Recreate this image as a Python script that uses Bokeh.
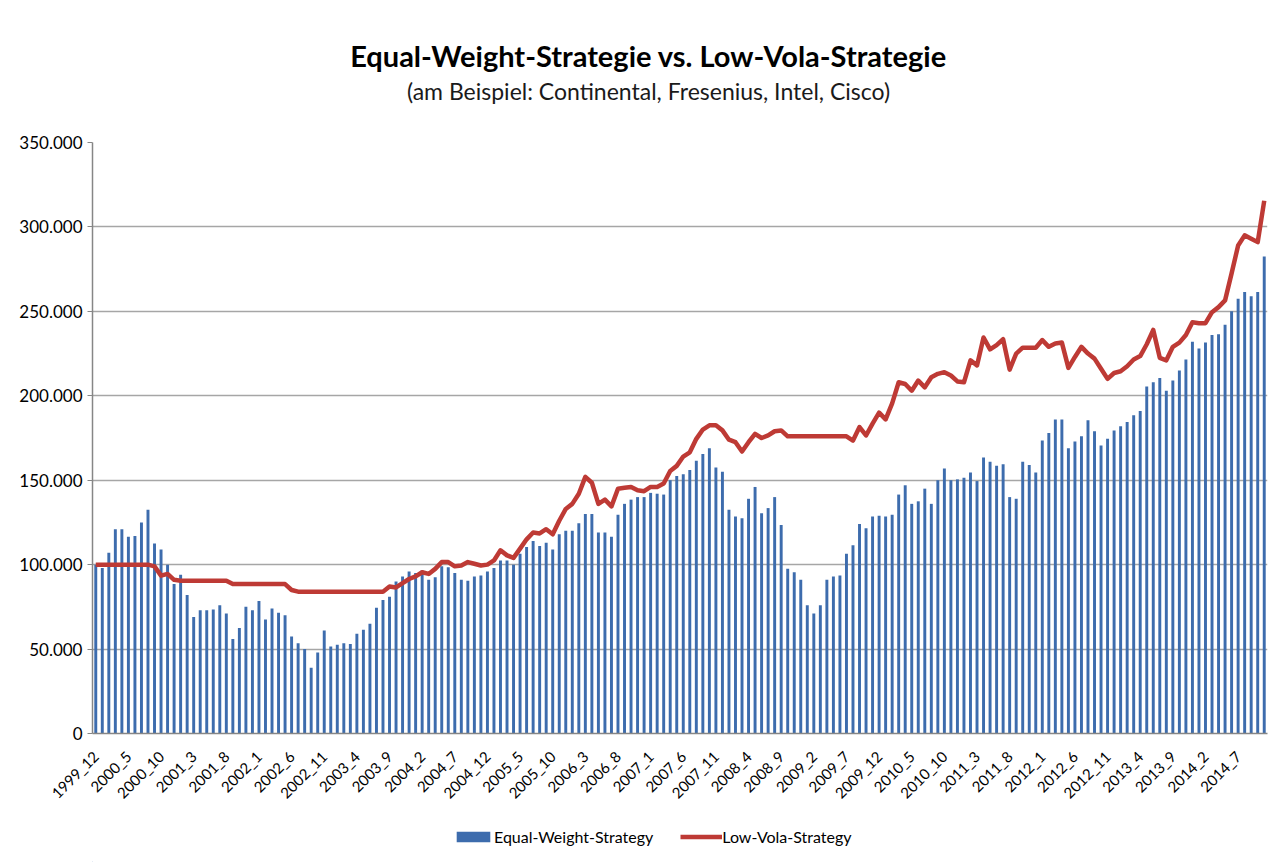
from math import pi
from bokeh.plotting import figure
from bokeh.layouts import column
from bokeh.core.properties import value
from bokeh.models import FixedTicker, Legend, LegendItem, Range1d, ColumnDataSource
from bokeh.embed import file_html
from bokeh.resources import INLINE

# ---------------- data ----------------
start_year, start_month = 1999, 12
n_months = 180
months = []
for k in range(n_months):
    m = start_month - 1 + k
    months.append(f"{start_year + m // 12}_{m % 12 + 1}")

tick_labels = ["1999_12", "2000_5", "2000_10", "2001_3", "2001_8", "2002_1", "2002_6",
               "2002_11", "2003_4", "2003_9", "2004_2", "2004_7", "2004_12", "2005_5",
               "2005_10", "2006_3", "2006_8", "2007_1", "2007_6", "2007_11", "2008_4",
               "2008_9", "2009_2", "2009_7", "2009_12", "2010_5", "2010_10", "2011_3",
               "2011_8", "2012_1", "2012_6", "2012_11", "2013_4", "2013_9", "2014_2",
               "2014_7"]

# values in thousands
equal_weight = [
    100, 98, 107, 121, 121, 116.5, 117, 125, 132.5, 112.5,
    109, 100, 88.5, 94, 82, 69, 73, 73, 73.5, 76,
    71, 56, 62.5, 75, 73, 78.5, 67.5, 74, 71.5, 70,
    57.5, 53.5, 50, 39, 48, 61, 51.5, 52.5, 53.5, 53,
    59, 61.5, 65, 74.5, 79, 81, 90, 93, 96, 95,
    96.5, 91, 92.5, 99, 98.5, 95, 91, 90.5, 93, 93.5,
    96, 98, 102.5, 102.5, 100, 106.5, 110.5, 114, 111, 113,
    109, 118, 120, 120, 124.5, 130, 130, 119, 119, 116.5,
    129.5, 136, 138.5, 140, 140, 142.5, 142, 141.5, 150, 152.5,
    153.5, 156, 161.5, 165.5, 169, 157.5, 155, 132.5, 128.5, 127.5,
    139, 146, 130.5, 133.5, 140, 123.5, 97.5, 95.5, 91, 76,
    71, 76, 91, 93, 93.5, 106.5, 111.5, 124, 121.5, 128.5,
    129, 128.5, 129.5, 141.5, 147, 136, 137.5, 145, 136, 150,
    157, 150, 150.5, 151.5, 154.5, 149.5, 163.5, 161, 158.5, 159.5,
    140, 139, 161, 159, 154.5, 173.5, 178, 186, 186, 169,
    173, 176, 185.5, 179, 170.5, 174.5, 179.5, 182, 184.5, 188.5,
    191, 205.5, 208, 210.5, 203, 209, 215, 221.5, 232, 228,
    231.5, 236, 236.5, 242, 250, 257.5, 261.5, 259, 261.5, 282.5,
]

low_vola = [
    100, 100, 100, 100, 100, 100, 100, 100, 100, 99,
    93.5, 94.5, 91, 90.5, 90.5, 90.5, 90.5, 90.5, 90.5, 90.5,
    90.5, 88.5, 88.5, 88.5, 88.5, 88.5, 88.5, 88.5, 88.5, 88.5,
    85, 84, 84, 84, 84, 84, 84, 84, 84, 84,
    84, 84, 84, 84, 84, 87, 86.5, 89, 91.5, 93,
    95.5, 94.5, 97.5, 101.5, 101.5, 99, 99.5, 101.5, 100.5, 99.5,
    100, 102.5, 108.5, 105.5, 104, 109.5, 115, 119, 118.5, 121,
    118, 126, 133, 136, 142, 152, 148.5, 136, 138.5, 134.5,
    145, 145.5, 146, 144, 143.5, 146, 146, 148, 155.5, 158.5,
    164, 166.5, 174.5, 180, 182.5, 182.5, 179.5, 174, 172.5, 167,
    172.5, 177.5, 175, 176.5, 179, 179.5, 176, 176, 176, 176,
    176, 176, 176, 176, 176, 176, 173.5, 181.5, 176.5, 183.5,
    190, 186, 195.5, 208, 207, 203, 209, 205, 211, 213,
    214, 212, 208.5, 208, 221, 218, 234.5, 227.5, 230, 233.5,
    215.5, 225, 228.5, 228.5, 228.5, 233, 229, 231, 231.5, 216.5,
    223, 229, 225, 222, 216, 210, 213.5, 214.5, 217.5, 221.5,
    223.5, 230.5, 239, 222.5, 221, 229, 231.5, 236, 243.5, 243,
    243, 249.5, 252.5, 256.5, 272.5, 289, 295, 293, 291, 315.5,
]

y_ticks = [0, 50, 100, 150, 200, 250, 300, 350]
y_tick_labels = ["0", "50.000", "100.000", "150.000", "200.000", "250.000", "300.000", "350.000"]

title_text = "Equal-Weight-Strategie vs. Low-Vola-Strategie"
subtitle_text = "(am Beispiel: Continental, Fresenius, Intel, Cisco)"
series_names = ["Equal-Weight-Strategy", "Low-Vola-Strategy"]

# ---------------- styling ----------------
FONT = "Lato"
BAR_COLOR = "#3D6CAD"
LINE_COLOR = "#BE3A35"
TOTAL_W = 1269
FRAME_L, FRAME_R = 92, 1267          # frame edges (page pixels); column aligns frames
TITLE_H, MAIN_H, LEGEND_H = 132, 688, 42


def strip(height):
    f = figure(width=TOTAL_W, height=height, output_backend="svg", toolbar_location=None,
               x_axis_type=None, y_axis_type=None,
               x_range=Range1d(FRAME_L, FRAME_R), y_range=Range1d(0, height),
               min_border_left=FRAME_L, min_border_right=TOTAL_W - FRAME_R,
               min_border_top=0, min_border_bottom=0)
    f.outline_line_color = None
    f.background_fill_color = "white"
    f.border_fill_color = "white"
    f.grid.visible = False
    return f


# ---------------- title strip ----------------
tf = strip(TITLE_H)
tf.text(x=[648], y=[TITLE_H - 55], text=[title_text], text_align="center", text_baseline="middle",
        text_font=value(FONT), text_font_style="bold", text_font_size="29px", text_color="#000000")
tf.text(x=[648], y=[TITLE_H - 90], text=[subtitle_text], text_align="center", text_baseline="middle",
        text_font=value(FONT), text_font_style="normal", text_font_size="23px", text_color="#1a1a1a")

# ---------------- main plot ----------------
idx = list(range(len(months)))
src = ColumnDataSource(dict(x=idx, month=months, ew=equal_weight, lv=low_vola))

p = figure(width=TOTAL_W, height=MAIN_H, output_backend="svg", toolbar_location=None,
           x_range=Range1d(-0.5, len(months) - 0.5), y_range=Range1d(0, 350),
           min_border_left=FRAME_L, min_border_right=TOTAL_W - FRAME_R,
           min_border_top=10, min_border_bottom=87)
p.background_fill_color = "white"
p.border_fill_color = "white"
p.outline_line_color = None

bars = p.vbar(x="x", top="ew", width=0.45, source=src, fill_color=BAR_COLOR, line_color=None)
line = p.line(x="x", y="lv", source=src, line_color=LINE_COLOR, line_width=4.5, line_join="round")

xa = p.xaxis[0]
tick_pos = [months.index(t) for t in tick_labels]
xa.ticker = FixedTicker(ticks=tick_pos)
xa.major_label_overrides = {i: t for i, t in zip(tick_pos, tick_labels)}
xa.major_label_orientation = pi / 4
xa.major_label_text_font = FONT
xa.major_label_text_font_size = "15px"
xa.major_label_text_color = "#000000"
xa.major_label_standoff = 14
xa.major_tick_line_color = None
xa.minor_tick_line_color = None
xa.axis_line_color = "#868686"
xa.axis_line_width = 1.5

ya = p.yaxis[0]
ya.ticker = FixedTicker(ticks=y_ticks)
ya.major_label_overrides = {v: s for v, s in zip(y_ticks, y_tick_labels)}
ya.major_label_text_font = FONT
ya.major_label_text_font_size = "17px"
ya.major_label_text_color = "#000000"
ya.major_tick_out = 5
ya.major_tick_in = 0
ya.major_tick_line_color = "#868686"
ya.minor_tick_line_color = None
ya.axis_line_color = "#868686"
ya.axis_line_width = 1.5

p.xgrid.grid_line_color = None
p.ygrid.grid_line_color = "#A6A6A6"
p.ygrid.grid_line_width = 1.5

# ---------------- legend strip ----------------
lf = strip(LEGEND_H)
offscreen = ColumnDataSource(dict(x=[-1000], top=[1], y=[-1000]))
leg_bar = lf.vbar(x="x", top="top", width=1, source=offscreen, fill_color=BAR_COLOR, line_color=None)
leg_line = lf.line(x="x", y="y", source=offscreen, line_color=LINE_COLOR, line_width=4.5)

legend = Legend(items=[LegendItem(label=series_names[0], renderers=[leg_bar]),
                       LegendItem(label=series_names[1], renderers=[leg_line])],
                orientation="horizontal", location=(452 - FRAME_L, 16))
legend.label_text_font = FONT
legend.label_text_font_size = "16px"
legend.label_text_color = "#000000"
legend.glyph_width = 42
legend.glyph_height = 13
legend.label_height = 20
legend.label_standoff = 0
legend.spacing = 27
legend.padding = 0
legend.margin = 0
legend.border_line_color = None
legend.background_fill_alpha = 0
lf.add_layout(legend, "center")

layout = column(tf, p, lf, spacing=0)
open("out.html", "w").write(file_html(layout, INLINE))
